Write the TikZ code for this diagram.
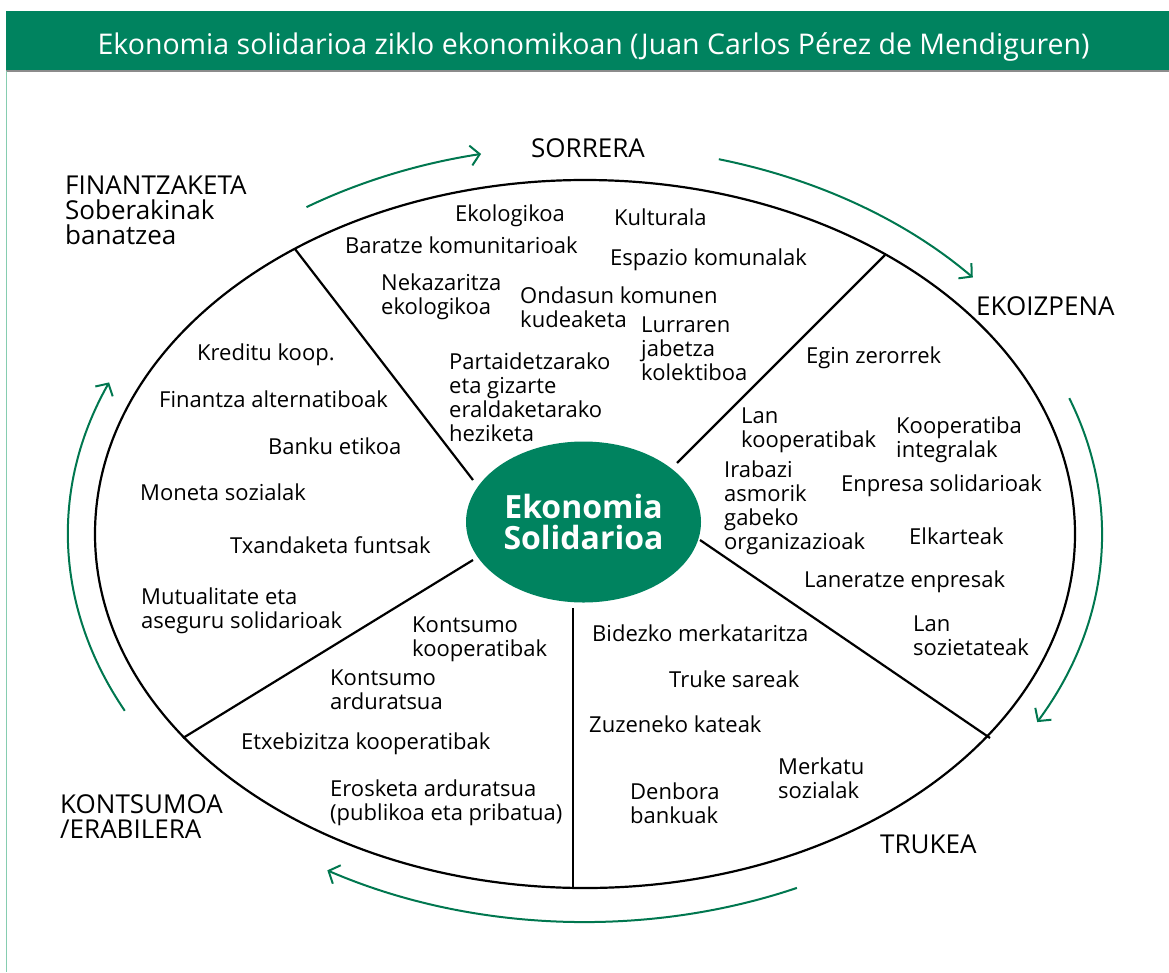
\documentclass[tikz,border=0pt]{standalone}
\usepackage{fontspec}
\setmainfont{Open Sans}
\usetikzlibrary{arrows.meta,shapes.geometric}
\definecolor{esgreen}{HTML}{00835F}
\definecolor{esarrow}{HTML}{00774F}
\definecolor{esedge}{HTML}{86CDB0}
\tikzset{
  item/.style={anchor=base west, align=left, inner sep=0pt, font=\fontsize{22}{24}\selectfont},
  stage/.style={anchor=base west, align=left, inner sep=0pt, font=\fontsize{26}{25}\selectfont},
  divider/.style={line width=2.2pt},
  cyclearrow/.style={esarrow, line width=2pt, -{Straight Barb[length=9pt,width=20pt,line width=2pt]}},
}
\begin{document}
\begin{tikzpicture}[x=1pt,y=1pt]
\useasboundingbox (0,0) rectangle (1169,-972);
\fill[esgreen] (6,-11) rectangle (1169,-71);
\draw[black!45, line width=1.2pt] (6,-71) -- (1169,-71);
\draw[esedge, line width=1.5pt] (6.5,-71) -- (6.5,-972);
\node[anchor=base, inner sep=0pt, text=white, font=\fontsize{28.5}{28.5}\selectfont] (title) at (593.5,-54) {Ekonomia solidarioa ziklo ekonomikoan (Juan Carlos Pérez de Mendiguren)};

\node[draw, ellipse, line width=2.2pt, minimum width=980pt, minimum height=708pt, inner sep=0pt] (wheel) at (585,-534) {};
\node[ellipse, fill=esgreen, minimum width=235pt, minimum height=161pt, inner sep=0pt, text=white, align=center, font=\bfseries\fontsize{32}{31}\selectfont] (core) at (583.5,-522) {Ekonomia\\Solidarioa};

\coordinate (d1i) at (473,-480); \coordinate (d1o) at (295,-249);
\coordinate (d2i) at (677,-463); \coordinate (d2o) at (885,-255);
\coordinate (d3i) at (700,-540); \coordinate (d3o) at (990,-738);
\coordinate (d4i) at (573,-608); \coordinate (d4o) at (573,-888);
\coordinate (d5i) at (473,-560); \coordinate (d5o) at (183,-738);
\draw[divider] (d1i) -- (d1o);
\draw[divider] (d2i) -- (d2o);
\draw[divider] (d3i) -- (d3o);
\draw[divider] (d4i) -- (d4o);
\draw[divider] (d5i) -- (d5o);

\coordinate (hub) at (585,-534);
\draw[cyclearrow] (hub) ++(122.6:517 and 388) arc[start angle=122.6, end angle=101.6, x radius=517, y radius=388];
\draw[cyclearrow] (hub) ++(75:517 and 388) arc[start angle=75, end angle=41.4, x radius=517, y radius=388];
\draw[cyclearrow] (hub) ++(20.5:517 and 388) arc[start angle=20.5, end angle=-29, x radius=517, y radius=388];
\draw[cyclearrow] (hub) ++(-65.8:517 and 388) arc[start angle=-65.8, end angle=-119.9, x radius=517, y radius=388];
\draw[cyclearrow] (hub) ++(207.1:517 and 388) arc[start angle=207.1, end angle=157, x radius=517, y radius=388];

\node[stage] (sorrera) at (531,-157) {SORRERA};
\node[stage] (ekoizpena) at (976,-315) {EKOIZPENA};
\node[stage] (trukea) at (880,-853) {TRUKEA};
\node[stage] (kontsumoa) at (60,-838) {KONTSUMOA\\/ERABILERA};
\node[stage] (finantzaketa) at (65,-244) {FINANTZAKETA\\Soberakinak\\banatzea};

\node[item] (ekologikoa) at (455,-221) {Ekologikoa};
\node[item] (kulturala) at (614,-225) {Kulturala};
\node[item] (baratze) at (345,-253) {Baratze komunitarioak};
\node[item] (espazio) at (610,-265) {Espazio komunalak};
\node[item] (nekazaritza) at (381,-314) {Nekazaritza\\ekologikoa};
\node[item] (ondasun) at (520,-327) {Ondasun komunen\\kudeaketa};
\node[item] (lurraren) at (641,-380) {Lurraren\\jabetza\\kolektiboa};
\node[item] (heziketa) at (449,-441) {Partaidetzarako\\eta gizarte\\eraldaketarako\\heziketa};

\node[item] (egin) at (806,-363) {Egin zerorrek};
\node[item] (lankoop) at (741,-447) {Lan\\kooperatibak};
\node[item] (integralak) at (896,-457) {Kooperatiba\\integralak};
\node[item] (irabazi) at (724,-549) {Irabazi\\asmorik\\gabeko\\organizazioak};
\node[item] (enpresa) at (841,-491) {Enpresa solidarioak};
\node[item] (elkarteak) at (909,-544) {Elkarteak};
\node[item] (laneratze) at (804,-587) {Laneratze enpresak};
\node[item] (sozietateak) at (913,-655) {Lan\\sozietateak};

\node[item] (bidezko) at (592,-641) {Bidezko merkataritza};
\node[item] (truke) at (669,-687) {Truke sareak};
\node[item] (zuzeneko) at (589,-732) {Zuzeneko kateak};
\node[item] (merkatu) at (778,-798) {Merkatu\\sozialak};
\node[item] (denbora) at (630,-823) {Denbora\\bankuak};

\node[item] (kontsumokoop) at (412,-656) {Kontsumo\\kooperatibak};
\node[item] (arduratsua) at (330,-709) {Kontsumo\\arduratsua};
\node[item] (etxebizitza) at (241,-749) {Etxebizitza kooperatibak};
\node[item] (erosketa) at (330,-820) {Erosketa arduratsua\\(publikoa eta pribatua)};

\node[item] (kreditu) at (197,-360) {Kreditu koop.};
\node[item] (finantza) at (159,-407) {Finantza alternatiboak};
\node[item] (banku) at (268,-454) {Banku etikoa};
\node[item] (moneta) at (140,-500) {Moneta sozialak};
\node[item] (txandaketa) at (230,-553) {Txandaketa funtsak};
\node[item] (mutualitate) at (141,-628) {Mutualitate eta\\aseguru solidarioak};
\end{tikzpicture}
\end{document}
